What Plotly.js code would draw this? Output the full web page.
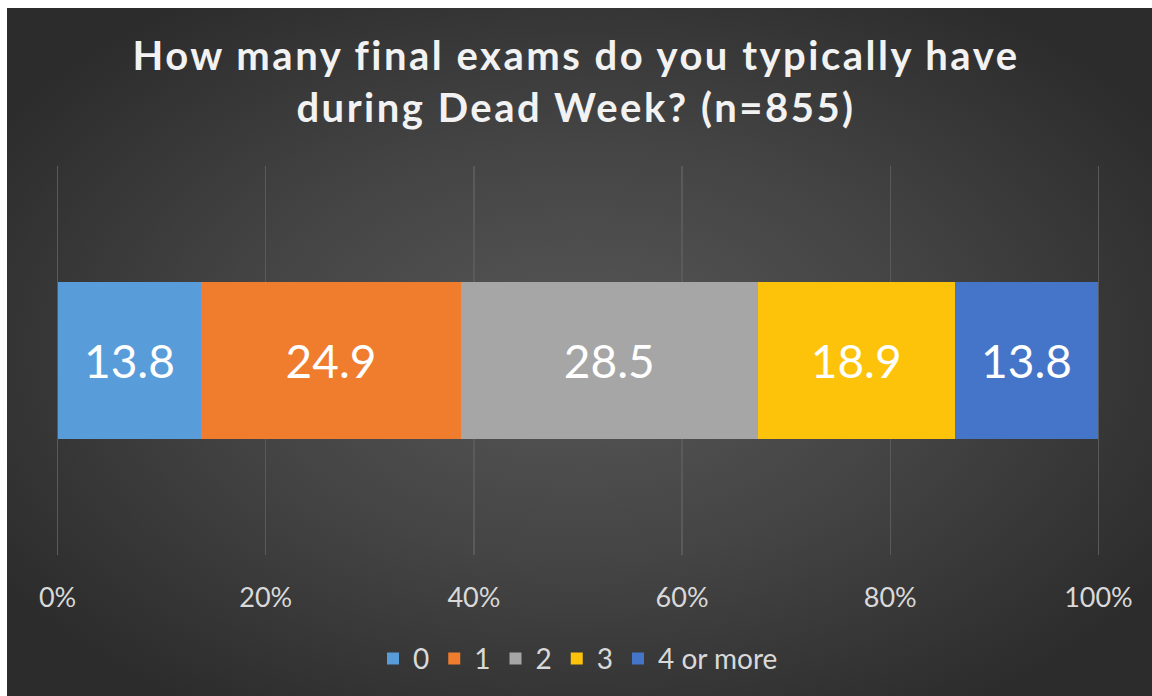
<!DOCTYPE html>
<html>
<head>
<meta charset="utf-8">
<script src="https://cdn.plot.ly/plotly-3.0.1.min.js"></script>
<style>
  html, body { margin: 0; padding: 0; background: #ffffff; }
  #bg {
    position: absolute; left: 7px; top: 8px; width: 1145px; height: 688px;
    background: radial-gradient(ellipse 60% 62% at 50% 50%, #575757 0%, #444444 50%, #2c2c2c 100%);
  }
  #chart { position: absolute; left: 0; top: 0; width: 1152px; height: 696px; }
  .gtitle { letter-spacing: 2.5px; }
</style>
</head>
<body>
<div id="bg"></div>
<div id="chart"></div>
<script>
const categories = ["0", "1", "2", "3", "4 or more"];
const values = [13.8, 24.9, 28.5, 18.9, 13.8];
const colors = ["#589cd9", "#f07c2e", "#a6a6a6", "#fcc30a", "#4575c9"];
const tickValues = [0, 20, 40, 60, 80, 100];
const tickLabels = ["0%", "20%", "40%", "60%", "80%", "100%"];
const rowLabel = ["Dead Week"];

const traces = categories.map((c, i) => ({
  type: "bar",
  orientation: "h",
  name: c,
  y: rowLabel,
  x: [values[i]],
  text: [values[i].toFixed(1)],
  texttemplate: "%{text}",
  textposition: "inside",
  insidetextanchor: "middle",
  textangle: 0,
  textfont: { family: "Lato", size: 46, color: "#ffffff" },
  marker: { color: colors[i], line: { width: 0 } },
  hoverinfo: "skip"
}));

const layout = {
  width: 1152,
  height: 696,
  paper_bgcolor: "rgba(0,0,0,0)",
  plot_bgcolor: "rgba(0,0,0,0)",
  barmode: "stack",
  barnorm: "percent",
  bargap: 0.596,
  margin: { l: 56, r: 52, t: 166, b: 141 },
  font: { family: "Lato", color: "#d9d9d9" },
  title: {
    text: "How many final exams do you typically have<br>during Dead Week? (n=855)",
    font: { family: "Lato", size: 40, color: "#f2f2f2", weight: "bold" },
    x: 0.5, xanchor: "center",
    y: 1 - 70 / 696, yref: "container", yanchor: "middle"
  },
  xaxis: {
    range: [-0.15, 100.15],
    tickvals: tickValues,
    ticktext: tickLabels,
    showgrid: true,
    gridcolor: "#5a5a5a",
    gridwidth: 1.5,
    zeroline: false,
    showline: false,
    ticks: "",
    ticklabelstandoff: 24,
    tickfont: { family: "Lato", size: 27, color: "#d9d9d9" },
    fixedrange: true
  },
  yaxis: {
    range: [-0.5, 0.5],
    showticklabels: false,
    showgrid: false,
    zeroline: false,
    showline: false,
    ticks: "",
    fixedrange: true
  },
  showlegend: true,
  legend: {
    orientation: "h",
    x: 0.5, xanchor: "center",
    y: -0.267, yanchor: "middle",
    traceorder: "normal",
    font: { family: "Lato", size: 28, color: "#d9d9d9" },
    bgcolor: "rgba(0,0,0,0)",
    itemclick: false, itemdoubleclick: false
  }
};

Plotly.newPlot("chart", traces, layout, { displayModeBar: false, staticPlot: true });
</script>
</body>
</html>
